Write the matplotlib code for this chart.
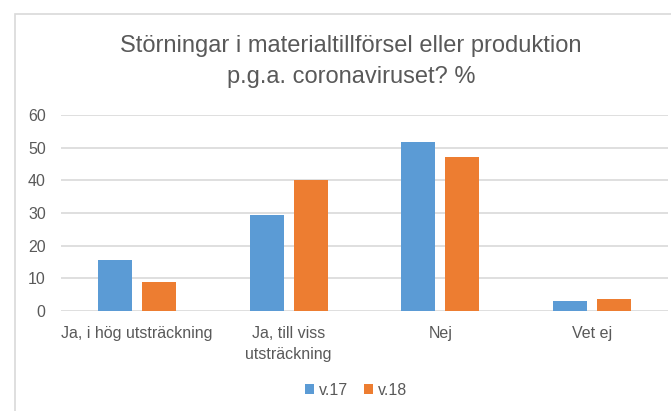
import matplotlib.pyplot as plt
from matplotlib.patches import Rectangle
import numpy as np

categories = ['Ja, i hög utsträckning', 'Ja, till viss\nutsträckning', 'Nej', 'Vet ej']
series_names = ['v.17', 'v.18']
v17 = [15.6, 29.4, 51.8, 3.0]
v18 = [9.0, 40.0, 47.2, 3.6]
yticks = [0, 10, 20, 30, 40, 50, 60]

blue = '#5B9BD5'
orange = '#ED7D31'
grey_txt = '#595959'
grid_col = '#D9D9D9'

plt.rcParams['font.family'] = ['Liberation Sans', 'DejaVu Sans']

fig = plt.figure(figsize=(6.71, 4.11), dpi=100)
ax = fig.add_axes([61 / 671, 1 - 311 / 411, (668 - 61) / 671, (311 - 115) / 411])

x = np.arange(len(categories))
w = 0.224
off = 0.145
ax.bar(x - off, v17, w, color=blue, label=series_names[0], zorder=3)
ax.bar(x + off, v18, w, color=orange, label=series_names[1], zorder=3)

ax.set_xlim(-0.5, 3.5)
ax.set_ylim(0, 60)
ax.set_yticks(yticks)
ax.set_xticks(x)
ax.set_xticklabels(categories, color=grey_txt, fontsize=11.5, linespacing=1.5)
ax.tick_params(axis='y', colors=grey_txt, labelsize=11.5, length=0, pad=11)
ax.tick_params(axis='x', length=0, pad=11)
ax.grid(axis='y', color=grid_col, linewidth=1.2, zorder=0)
for s in ax.spines.values():
    s.set_visible(False)

fig.text(351 / 671, 1 - 46 / 411, 'Störningar i materialtillförsel eller produktion',
         ha='center', va='center', fontsize=17, color=grey_txt)
fig.text(351 / 671, 1 - 77 / 411, 'p.g.a. coronaviruset? %',
         ha='center', va='center', fontsize=17, color=grey_txt)

leg = fig.legend(loc='center', bbox_to_anchor=(356 / 671, 1 - 390 / 411), ncol=2,
                 frameon=False, fontsize=11.5, handlelength=0.55, handleheight=0.55,
                 handletextpad=0.3, columnspacing=1.0, labelcolor=grey_txt)

# chart area border (cropped at right and bottom)
fig.patches.append(Rectangle((15 / 671, -0.1), 1.2, 1 - 14 / 411 + 0.1,
                             transform=fig.transFigure, fill=False,
                             edgecolor=grid_col, linewidth=1.2))

fig.savefig('out.png', dpi=100)
